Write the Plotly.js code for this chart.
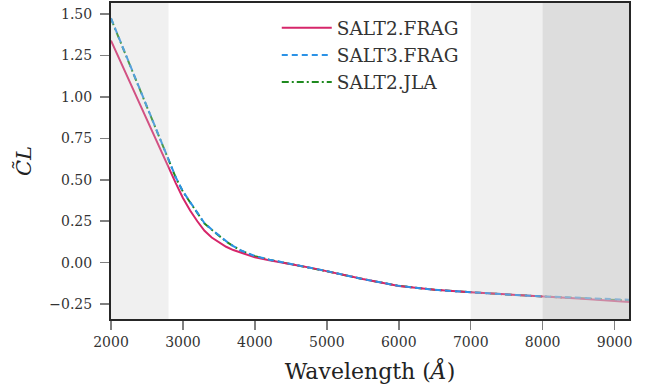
<!DOCTYPE html>
<html>
<head>
<meta charset="utf-8">
<script src="https://cdn.plot.ly/plotly-3.0.1.min.js"></script>
<style>html,body{margin:0;padding:0;background:#fff;}#chart{width:654px;height:389px;}</style>
</head>
<body>
<div id="chart"></div>
<script>
// Wavelength grid (Angstrom)
const wavelength = [2000, 2200, 2400, 2600, 2800, 2900, 3000, 3100, 3200, 3300, 3400, 3500, 3600, 3700, 3800, 4000, 4200, 4400, 4600, 4800, 5000, 5500, 6000, 6500, 7000, 7500, 8000, 8500, 9000, 9200];
// Colour law values
const salt2Frag = [1.34, 1.148, 0.955, 0.763, 0.57, 0.48, 0.39, 0.315, 0.25, 0.192, 0.152, 0.122, 0.096, 0.076, 0.06, 0.032, 0.014, 0.0, -0.017, -0.033, -0.052, -0.099, -0.141, -0.163, -0.178, -0.190, -0.203, -0.217, -0.232, -0.238];
const salt3Frag = [1.475, 1.26, 1.045, 0.83, 0.615, 0.515, 0.43, 0.365, 0.295, 0.238, 0.2, 0.163, 0.13, 0.1, 0.075, 0.04, 0.018, 0.001, -0.016, -0.032, -0.051, -0.099, -0.140, -0.164, -0.180, -0.192, -0.203, -0.213, -0.221, -0.224];
const salt2Jla  = [1.472, 1.258, 1.044, 0.829, 0.614, 0.514, 0.428, 0.363, 0.293, 0.236, 0.198, 0.161, 0.128, 0.099, 0.074, 0.039, 0.017, 0.0, -0.017, -0.033, -0.052, -0.099, -0.140, -0.164, -0.180, -0.192, -0.204, -0.215, -0.225, -0.229];
const seriesNames = ["SALT2.FRAG", "SALT3.FRAG", "SALT2.JLA"];
const xTicks = [2000, 3000, 4000, 5000, 6000, 7000, 8000, 9000];
const yTicks = [-0.25, 0.0, 0.25, 0.5, 0.75, 1.0, 1.25, 1.5];
const blueBand = [2000, 2800];
const redBand = [7000, 9200];
const farRedBand = [8000, 9200];

const traces = [
  {x: wavelength, y: salt2Jla, name: seriesNames[2], mode: "lines", legendrank: 3,
   line: {color: "#1f8a1f", width: 2, dash: "7px,3px,2px,3px"}},
  {x: wavelength, y: salt2Frag, name: seriesNames[0], mode: "lines", legendrank: 1,
   line: {color: "#d6266a", width: 2}},
  {x: wavelength, y: salt3Frag, name: seriesNames[1], mode: "lines", legendrank: 2,
   line: {color: "#2b92e6", width: 2, dash: "6px,4px"}}
];

const font = "DejaVu Serif, serif";
const layout = {
  width: 654, height: 389,
  margin: {l: 111, r: 25, t: 3, b: 70},
  paper_bgcolor: "#fff", plot_bgcolor: "#fff",
  font: {family: font, color: "#333"},
  showlegend: true,
  legend: {x: 0.32, y: 0.98, xanchor: "left", yanchor: "top", bgcolor: "rgba(0,0,0,0)",
           font: {size: 18.5, family: font, color: "#333"}, tracegroupgap: 0, itemwidth: 50},
  xaxis: {range: [2000, 9200], tickvals: xTicks, ticktext: xTicks.map(String),
          showgrid: false, zeroline: false, showline: true, mirror: true, linecolor: "#262626", linewidth: 2,
          ticks: "outside", ticklen: 9, tickwidth: 1.5, tickcolor: "#808080",
          tickfont: {size: 14, family: font, color: "#333"},
          title: {text: "Wavelength (<i>Å</i>)", font: {size: 22, family: font, color: "#222"}, standoff: 15}},
  yaxis: {range: [-0.34, 1.567], tickvals: yTicks, tickformat: ".2f",
          showgrid: false, zeroline: false, showline: true, mirror: true, linecolor: "#262626", linewidth: 2,
          ticks: "outside", ticklen: 9, tickwidth: 1.5, tickcolor: "#808080", ticklabelstandoff: 5,
          tickfont: {size: 14, family: font, color: "#333"},
          title: {text: "<i>C\u0303L</i>", font: {size: 21, family: font, color: "#222"}, standoff: 12}},
  shapes: [
    {type: "rect", xref: "x", yref: "paper", x0: blueBand[0], x1: blueBand[1], y0: 0, y1: 1,
     fillcolor: "rgba(200,200,200,0.27)", line: {width: 0}, layer: "above"},
    {type: "rect", xref: "x", yref: "paper", x0: redBand[0], x1: redBand[1], y0: 0, y1: 1,
     fillcolor: "rgba(200,200,200,0.27)", line: {width: 0}, layer: "above"},
    {type: "rect", xref: "x", yref: "paper", x0: farRedBand[0], x1: farRedBand[1], y0: 0, y1: 1,
     fillcolor: "rgba(200,200,200,0.475)", line: {width: 0}, layer: "above"}
  ]
};
Plotly.newPlot("chart", traces, layout, {displayModeBar: false, staticPlot: true});
</script>
</body>
</html>
